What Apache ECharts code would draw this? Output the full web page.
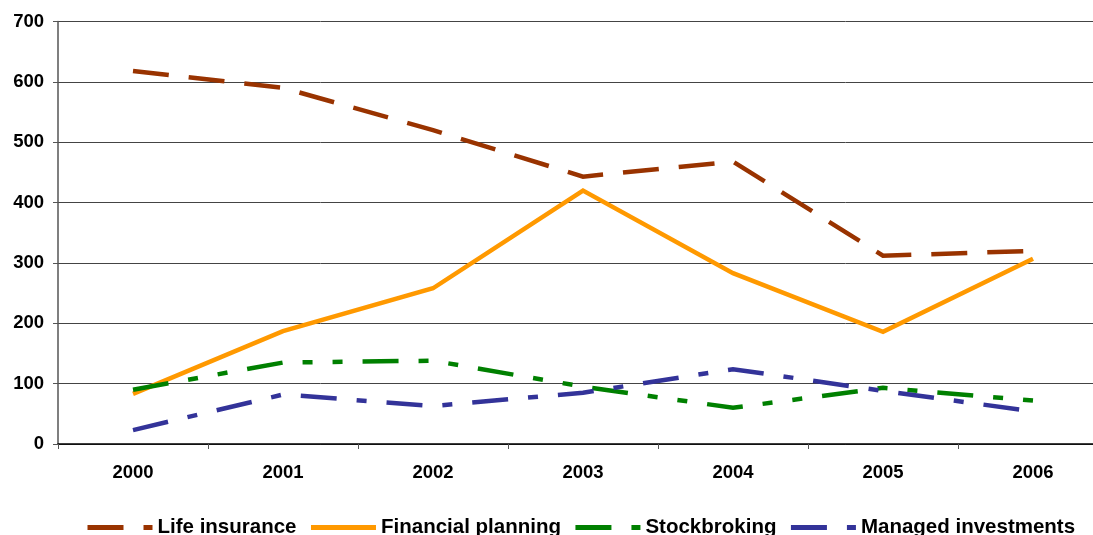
<!DOCTYPE html>
<html>
<head>
<meta charset="utf-8">
<script src="https://cdn.jsdelivr.net/npm/echarts@6/dist/echarts.min.js"></script>
<style>html,body{margin:0;padding:0;background:#fff;overflow:hidden;width:1093px;height:535px}#c{width:1108px;height:535px}</style>
</head>
<body>
<div id="c"></div>
<script>
var categories = ['2000','2001','2002','2003','2004','2005','2006'];
var lifeInsurance = [618, 590, 520, 443, 468, 312, 320];
var financialPlanning = [83, 187, 258, 420, 283, 186, 307];
var stockbroking = [90, 135, 138, 95, 60, 93, 72];
var managedInvestments = [23, 82, 63, 85, 124, 88, 54];
var yTicks = [0, 100, 200, 300, 400, 500, 600, 700];

var font = 'Liberation Sans, Arial, sans-serif';
var chart = echarts.init(document.getElementById('c'));
function s(name, data, color, dash) {
  return {
    name: name, type: 'line', data: data, symbol: 'none', showSymbol: false,
    lineStyle: {color: color, width: 4.5, type: dash, cap: 'butt', join: 'miter'},
    itemStyle: {color: color}
  };
}
chart.setOption({
  animation: false,
  grid: {left: 58, top: 21.5, right: 0, height: 422.5},
  xAxis: {
    type: 'category', data: categories, boundaryGap: true,
    axisLine: {lineStyle: {color: '#000', width: 1.5}},
    axisTick: {show: true, length: 5, lineStyle: {color: '#555'}},
    axisLabel: {color: '#000', fontFamily: font, fontWeight: 'bold', fontSize: 18.5, margin: 19}
  },
  yAxis: {
    type: 'value', min: yTicks[0], max: yTicks[yTicks.length - 1], interval: 100,
    axisLine: {show: true, lineStyle: {color: '#555', width: 1.5}},
    axisTick: {show: true, length: 5, lineStyle: {color: '#555'}},
    axisLabel: {color: '#000', fontFamily: font, fontWeight: 'bold', fontSize: 18.5, margin: 14},
    splitLine: {show: true, lineStyle: {color: '#444', width: 1}}
  },
  legend: {
    top: 512, left: 80, itemWidth: 65, itemHeight: 14, itemGap: 12,
    itemStyle: {opacity: 0},
    lineStyle: {width: 5},
    textStyle: {color: '#000', fontFamily: font, fontWeight: 'bold', fontSize: 20.5}
  },
  series: [
    s('Life insurance', lifeInsurance, '#993300', [36, 20]),
    s('Financial planning', financialPlanning, '#FF9900', 'solid'),
    s('Stockbroking', stockbroking, '#008000', [36, 20, 10, 20, 10, 20]),
    s('Managed investments', managedInvestments, '#333399', [36, 20, 10, 20])
  ]
});
</script>
</body>
</html>
